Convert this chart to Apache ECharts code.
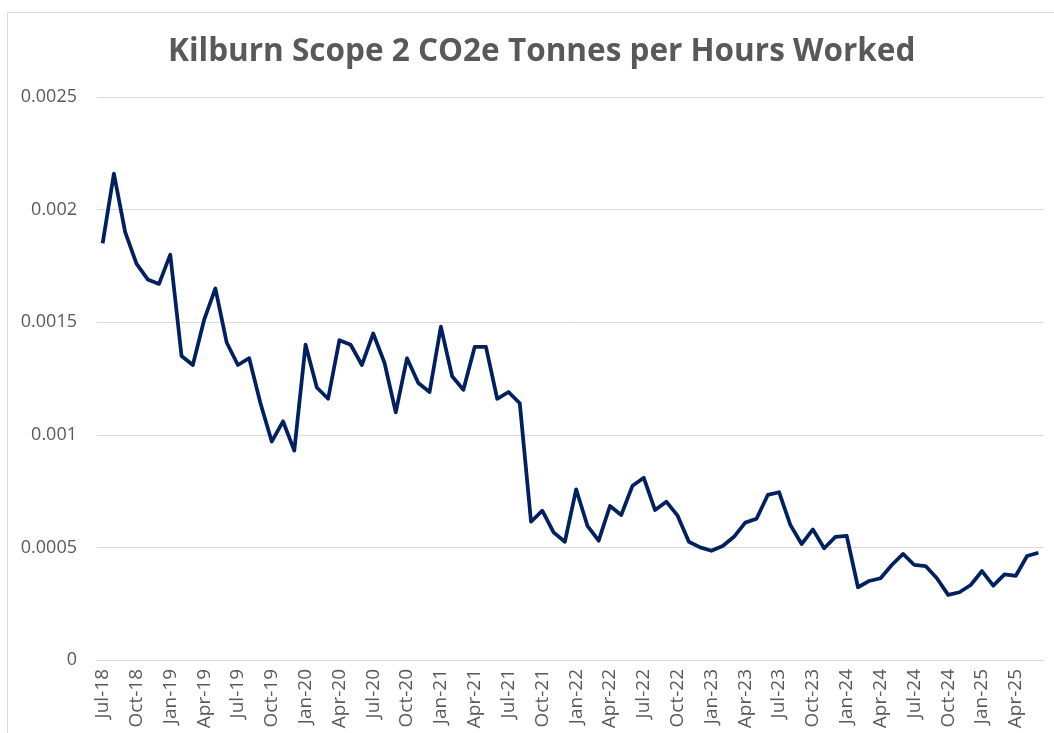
<!DOCTYPE html>
<html>
<head>
<meta charset="utf-8">
<script src="https://cdn.jsdelivr.net/npm/echarts@6/dist/echarts.min.js"></script>
<style>
  html, body { margin: 0; padding: 0; background: #fff; }
  #chart { width: 1054px; height: 733px; }
</style>
</head>
<body>
<div id="chart"></div>
<script>
// months Jul-18 .. Jun-25
const months = [
  'Jul-18', 'Aug-18', 'Sep-18', 'Oct-18', 'Nov-18', 'Dec-18',
  'Jan-19', 'Feb-19', 'Mar-19', 'Apr-19', 'May-19', 'Jun-19',
  'Jul-19', 'Aug-19', 'Sep-19', 'Oct-19', 'Nov-19', 'Dec-19',
  'Jan-20', 'Feb-20', 'Mar-20', 'Apr-20', 'May-20', 'Jun-20',
  'Jul-20', 'Aug-20', 'Sep-20', 'Oct-20', 'Nov-20', 'Dec-20',
  'Jan-21', 'Feb-21', 'Mar-21', 'Apr-21', 'May-21', 'Jun-21',
  'Jul-21', 'Aug-21', 'Sep-21', 'Oct-21', 'Nov-21', 'Dec-21',
  'Jan-22', 'Feb-22', 'Mar-22', 'Apr-22', 'May-22', 'Jun-22',
  'Jul-22', 'Aug-22', 'Sep-22', 'Oct-22', 'Nov-22', 'Dec-22',
  'Jan-23', 'Feb-23', 'Mar-23', 'Apr-23', 'May-23', 'Jun-23',
  'Jul-23', 'Aug-23', 'Sep-23', 'Oct-23', 'Nov-23', 'Dec-23',
  'Jan-24', 'Feb-24', 'Mar-24', 'Apr-24', 'May-24', 'Jun-24',
  'Jul-24', 'Aug-24', 'Sep-24', 'Oct-24', 'Nov-24', 'Dec-24',
  'Jan-25', 'Feb-25', 'Mar-25', 'Apr-25', 'May-25', 'Jun-25'
]

// tonnes CO2e per hour worked
const co2PerHour = [
  0.00185, 0.00216, 0.00190, 0.00176, 0.00169, 0.00167,
  0.00180, 0.00135, 0.00131, 0.00151, 0.00165, 0.00141,
  0.00131, 0.00134, 0.00114, 0.00097, 0.00106, 0.00093,
  0.00140, 0.00121, 0.00116, 0.00142, 0.00140, 0.00131,
  0.00145, 0.00132, 0.00110, 0.00134, 0.00123, 0.00119,
  0.00148, 0.00126, 0.00120, 0.00139, 0.00139, 0.00116,
  0.00119, 0.00114, 0.000614, 0.000663, 0.000567, 0.000525,
  0.000758, 0.000596, 0.000530, 0.000684, 0.000644, 0.000774,
  0.000809, 0.000666, 0.000703, 0.000641, 0.000525, 0.000500,
  0.000485, 0.000506, 0.000547, 0.000610, 0.000627, 0.000733,
  0.000745, 0.000600, 0.000515, 0.000580, 0.000496, 0.000547,
  0.000551, 0.000323, 0.000351, 0.000363, 0.000422, 0.000471,
  0.000422, 0.000417, 0.000363, 0.000289, 0.000301, 0.000333,
  0.000395, 0.000330, 0.000380, 0.000374, 0.000462, 0.000476
]

const yTicks = [0, 0.0005, 0.001, 0.0015, 0.002, 0.0025]

const chart = echarts.init(document.getElementById('chart'))
const option = {
  animation: false,
  textStyle: { fontFamily: 'Open Sans' },
  title: {
    text: 'Kilburn Scope 2 CO2e Tonnes per Hours Worked',
    left: 163,
    top: 31,
    textStyle: {
      fontFamily: 'Open Sans',
      fontSize: 31.5,
      fontWeight: 'bold',
      color: '#595959'
    }
  },
  graphic: [
    {
      type: 'rect',
      shape: { x: 7.5, y: 12.5, width: 1200, height: 1000 },
      style: { fill: 'none', stroke: '#d9d9d9', lineWidth: 1 },
      silent: true
    }
  ],
  grid: {
    left: 97,
    right: 10,
    top: 97,
    bottom: 73
  },
  xAxis: {
    type: 'category',
    data: months,
    boundaryGap: true,
    axisLine: { show: true, lineStyle: { color: '#d9d9d9', width: 1 } },
    axisTick: { show: false },
    axisLabel: {
      interval: 2,
      rotate: 90,
      margin: 9,
      fontSize: 19,
      color: '#595959'
    }
  },
  yAxis: {
    type: 'value',
    min: yTicks[0],
    max: yTicks[yTicks.length - 1],
    interval: 0.0005,
    axisLine: { show: false },
    axisTick: { show: false },
    splitLine: { lineStyle: { color: '#d9d9d9', width: 1 } },
    axisLabel: {
      margin: 20,
      fontSize: 18,
      color: '#595959'
    }
  },
  series: [
    {
      name: 'CO2e per hour',
      type: 'line',
      data: co2PerHour,
      symbol: 'none',
      lineStyle: { color: '#002060', width: 3.75, join: 'round' },
      itemStyle: { color: '#002060' }
    }
  ]
}
chart.setOption(option)
</script>
</body>
</html>
